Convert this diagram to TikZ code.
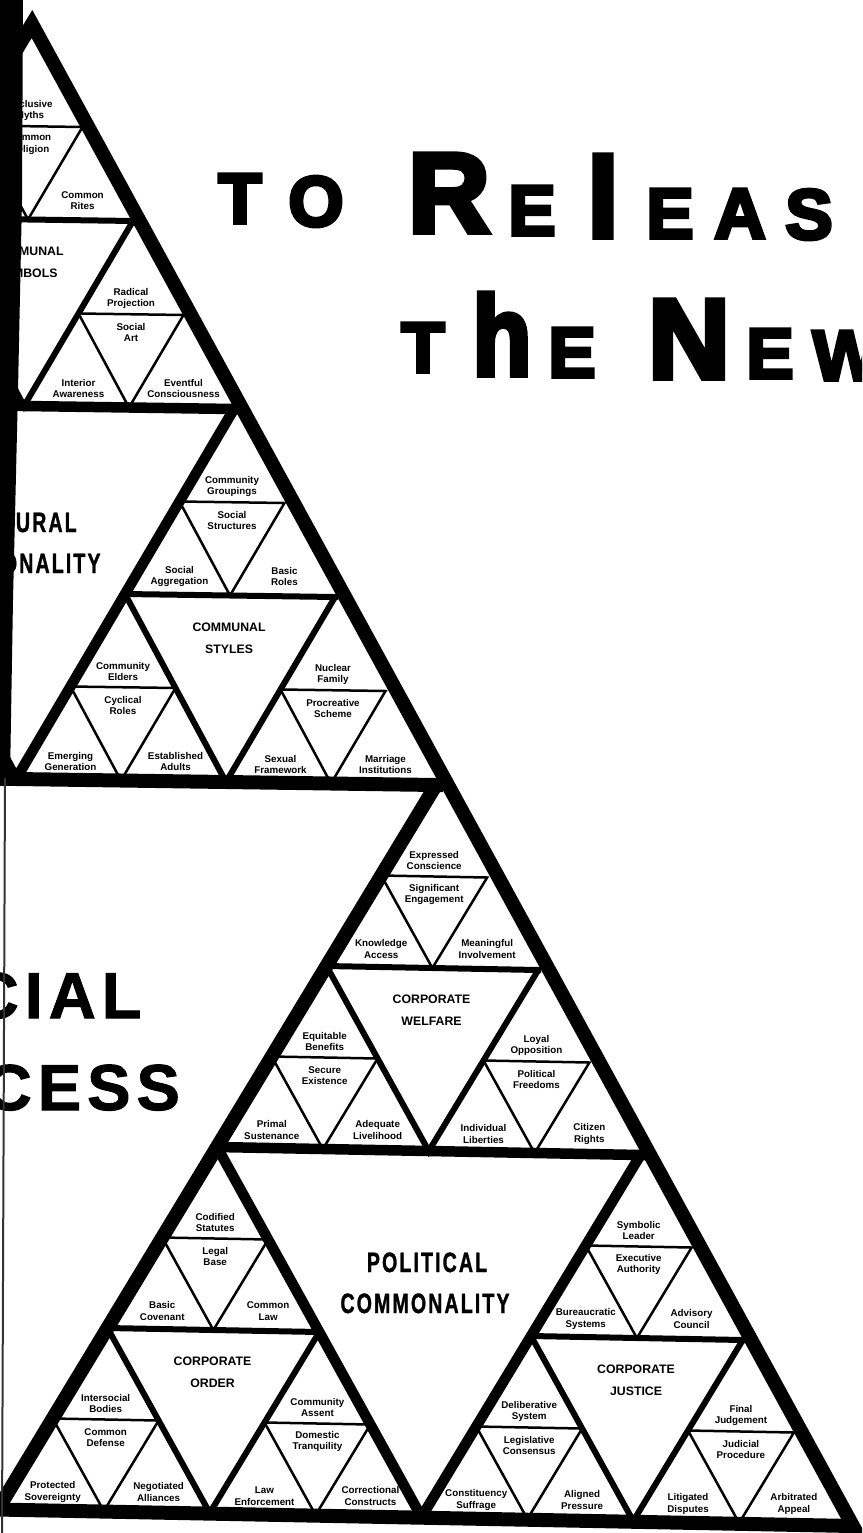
\documentclass[tikz,border=0pt]{standalone}
\usepackage{fontspec}
\setmainfont{Liberation Sans}
\newfontfamily\titlefont[FakeBold=5]{Liberation Sans}
\newfontfamily\heavyfont[FakeBold=1.5]{Liberation Sans}
\usetikzlibrary{calc}

\tikzset{
  outer edge/.style={line width=14pt, line join=miter},
  major edge/.style={line width=10.5pt, line join=bevel},
  group edge/.style={line width=6pt, line join=miter},
  cell edge/.style={line width=2.5pt, line join=miter},
  lab/.style={inner sep=0pt, align=center, font=\bfseries\fontsize{9.8}{11.5}\selectfont},
  caps/.style={inner sep=0pt, align=center, font=\bfseries\fontsize{12.3}{22.5}\selectfont},
  cond/.style={inner sep=0pt, anchor=base, font=\heavyfont\bfseries\fontsize{28}{28}\selectfont},
  big/.style={inner sep=0pt, anchor=base, font=\heavyfont\bfseries\fontsize{65}{65}\selectfont},
  titlech/.style={inner sep=0pt, anchor=base, font=\titlefont\bfseries\fontsize{#1}{#1}\selectfont},
}

% condensed, letter-spaced capitals
\newcommand\narrowcaps[1]{\scalebox{.7}[1]{#1}}

% one group: its inner inverted triangle and caption
\newcommand\grouptri[5]{%
  \coordinate (#1a) at ($(#2)!.5!(#3)$);
  \coordinate (#1b) at ($(#2)!.5!(#4)$);
  \coordinate (#1c) at ($(#3)!.5!(#4)$);
  \coordinate (#1m) at ($(#1a)!.5!(#1b)$);
  \draw[group edge] (#1a) -- (#1c) -- (#1b);
  \draw[group edge, line cap=rect] (#1a) -- (#1b);
  \node[caps] (#1-cap) at ($(#1m)!.23!(#1c)$) {#5};
}

% one cell: small inverted triangle and its four labels
\newcommand\cell[8]{%
  \coordinate (#1a) at ($(#2)!.5!(#3)$);
  \coordinate (#1b) at ($(#2)!.5!(#4)$);
  \coordinate (#1c) at ($(#3)!.5!(#4)$);
  \draw[cell edge] (#1a) -- (#1b) -- (#1c) -- cycle;
  \node[lab] (#1-t) at ($(#1a)!.5!(#1b)+(0,16)$) {#5};
  \node[lab] (#1-m) at ($(#1a)!.5!(#1b)+(0,-18)$) {#6};
  \if\relax\detokenize{#7}\relax\else
    \node[lab] (#1-l) at ($(#1a |- #1c)+(0,19)$) {#7};
  \fi
  \node[lab] (#1-r) at ($(#1b |- #1c)+(0,19)$) {#8};
}

\begin{document}
\begin{tikzpicture}[x=1pt,y=1pt]
\clip (0,0) rectangle (862,-1533);
\fill[white] (0,0) rectangle (862,-1533);

% frame of the whole figure
\coordinate (P0) at (32,-24);
\coordinate (Rd) at (853,-1526);
\coordinate (L)  at (-859,-1493);
% corners used for the subdivision
\coordinate (Pc) at (32,-33);
\coordinate (Mr) at (436,-785);
\coordinate (R)  at (845,-1525);
\coordinate (Mb) at (-2,-1509);
\coordinate (Ml) at (-404,-773);
% second level
\coordinate (Q5) at ($(Pc)!.5!(Ml)$);
\coordinate (Q1) at ($(Pc)!.5!(Mr)$);
\coordinate (Q4) at ($(Ml)!.5!(Mr)$);
\coordinate (Q3) at ($(Mr)!.5!(Mb)$);
\coordinate (Q2) at ($(Mr)!.5!(R)$);
\coordinate (Qb) at ($(Mb)!.5!(R)$);

% cultural commonality
\grouptri{A}{Pc}{Q5}{Q1}{COMMUNAL\\SYMBOLS}
\cell{At}{Pc}{Aa}{Ab}{Exclusive\\Myths}{Common\\Religion}{}{Common\\Rites}
\cell{Ar}{Ab}{Ac}{Q1}{Radical\\Projection}{Social\\Art}{Interior\\Awareness}{Eventful\\Consciousness}

\grouptri{B}{Q1}{Q4}{Mr}{COMMUNAL\\STYLES}
\cell{Bt}{Q1}{Ba}{Bb}{Community\\Groupings}{Social\\Structures}{Social\\Aggregation}{Basic\\Roles}
\cell{Bl}{Ba}{Q4}{Bc}{Community\\Elders}{Cyclical\\Roles}{Emerging\\Generation}{Established\\Adults}
\cell{Br}{Bb}{Bc}{Mr}{Nuclear\\Family}{Procreative\\Scheme}{Sexual\\Framework}{Marriage\\Institutions}

% political commonality
\grouptri{C}{Mr}{Q3}{Q2}{CORPORATE\\WELFARE}
\cell{Ct}{Mr}{Ca}{Cb}{Expressed\\Conscience}{Significant\\Engagement}{Knowledge\\Access}{Meaningful\\Involvement}
\cell{Cl}{Ca}{Q3}{Cc}{Equitable\\Benefits}{Secure\\Existence}{Primal\\Sustenance}{Adequate\\Livelihood}
\cell{Cr}{Cb}{Cc}{Q2}{Loyal\\Opposition}{Political\\Freedoms}{Individual\\Liberties}{Citizen\\Rights}

\grouptri{D}{Q3}{Mb}{Qb}{CORPORATE\\ORDER}
\cell{Dt}{Q3}{Da}{Db}{Codified\\Statutes}{Legal\\Base}{Basic\\Covenant}{Common\\Law}
\cell{Dl}{Da}{Mb}{Dc}{Intersocial\\Bodies}{Common\\Defense}{Protected\\Sovereignty}{Negotiated\\Alliances}
\cell{Dr}{Db}{Dc}{Qb}{Community\\Assent}{Domestic\\Tranquility}{Law\\Enforcement}{Correctional\\Constructs}

\grouptri{E}{Q2}{Qb}{R}{CORPORATE\\JUSTICE}
\cell{Et}{Q2}{Ea}{Eb}{Symbolic\\Leader}{Executive\\Authority}{Bureaucratic\\Systems}{Advisory\\Council}
\cell{El}{Ea}{Qb}{Ec}{Deliberative\\System}{Legislative\\Consensus}{Constituency\\Suffrage}{Aligned\\Pressure}
\cell{Er}{Eb}{Ec}{R}{Final\\Judgement}{Judicial\\Procedure}{Litigated\\Disputes}{Arbitrated\\Appeal}

% middle triangles of the two large halves
\draw[major edge] (Q5) -- (Q4) -- (Q1);
\draw[major edge, line cap=rect] (Q5) -- (Q1);
\draw[major edge] (Q3) -- (Qb) -- (Q2);
\draw[major edge, line cap=rect] (Q3) -- (Q2);

% social process triangle and outer frame
\draw[outer edge, line join=bevel] (Ml) -- (Mb) -- (Mr);
\draw[outer edge, line cap=rect] (Ml) -- (Mr);
\draw[outer edge] (P0) -- (L) -- (Rd) -- cycle;

% large captions
\node[cond] (cul1) at (16,-532) {\narrowcaps{C\kern3pt U\kern3pt L\kern3pt T\kern3pt U\kern3pt R\kern3pt A\kern3pt L}};
\node[cond] (cul2) at (16,-573) {\narrowcaps{C\kern3pt O\kern3pt M\kern3pt M\kern3pt O\kern3pt N\kern3pt A\kern3pt L\kern3pt I\kern3pt T\kern3pt Y}};
\node[cond] (pol1) at (427,-1272) {\narrowcaps{P\kern3pt O\kern3pt L\kern3pt I\kern3pt T\kern3pt I\kern3pt C\kern3pt A\kern3pt L}};
\node[cond] (pol2) at (425,-1313) {\narrowcaps{C\kern3pt O\kern3pt M\kern3pt M\kern3pt O\kern3pt N\kern3pt A\kern3pt L\kern3pt I\kern3pt T\kern3pt Y}};
\node[big] (soc1) at (3.7,-1018) {S\kern6pt O\kern6pt C\kern6pt I\kern6pt A\kern6pt L};
\node[big] (soc2) at (3,-1110) {P\kern6pt R\kern6pt O\kern6pt C\kern6pt E\kern6pt S\kern6pt S};

% title lettering
\foreach \n/\x/\y/\sz/\ch in {t1/240/223/71/T, t2/316/226/71/O, t3/449/232/113/R,
    t4/532/235/71/E, t5/603/237/113/l, t6/670/238/71/E, t7/740/238/71/A,
    t8/809/239/71/S, t9/884/241/71/E, u1/423/372/71/T, u2/502/375/113/\scalebox{.85}[1]{h},
    u3/572/377/71/E, u4/689/378/113/N, u5/770/378/71/E, u6/846/380/71/W}
  \node[titlech=\sz] (\n) at (\x,-\y) {\ch};

% binding edge of the page
\fill[black] (0,0) -- (23,0) -- (22,-200) -- (18,-390) -- (13,-600) -- (10,-778) -- (0,-778) -- cycle;
\draw[line width=2pt, black!80] (5,-778) -- (2,-1533);
\end{tikzpicture}
\end{document}
